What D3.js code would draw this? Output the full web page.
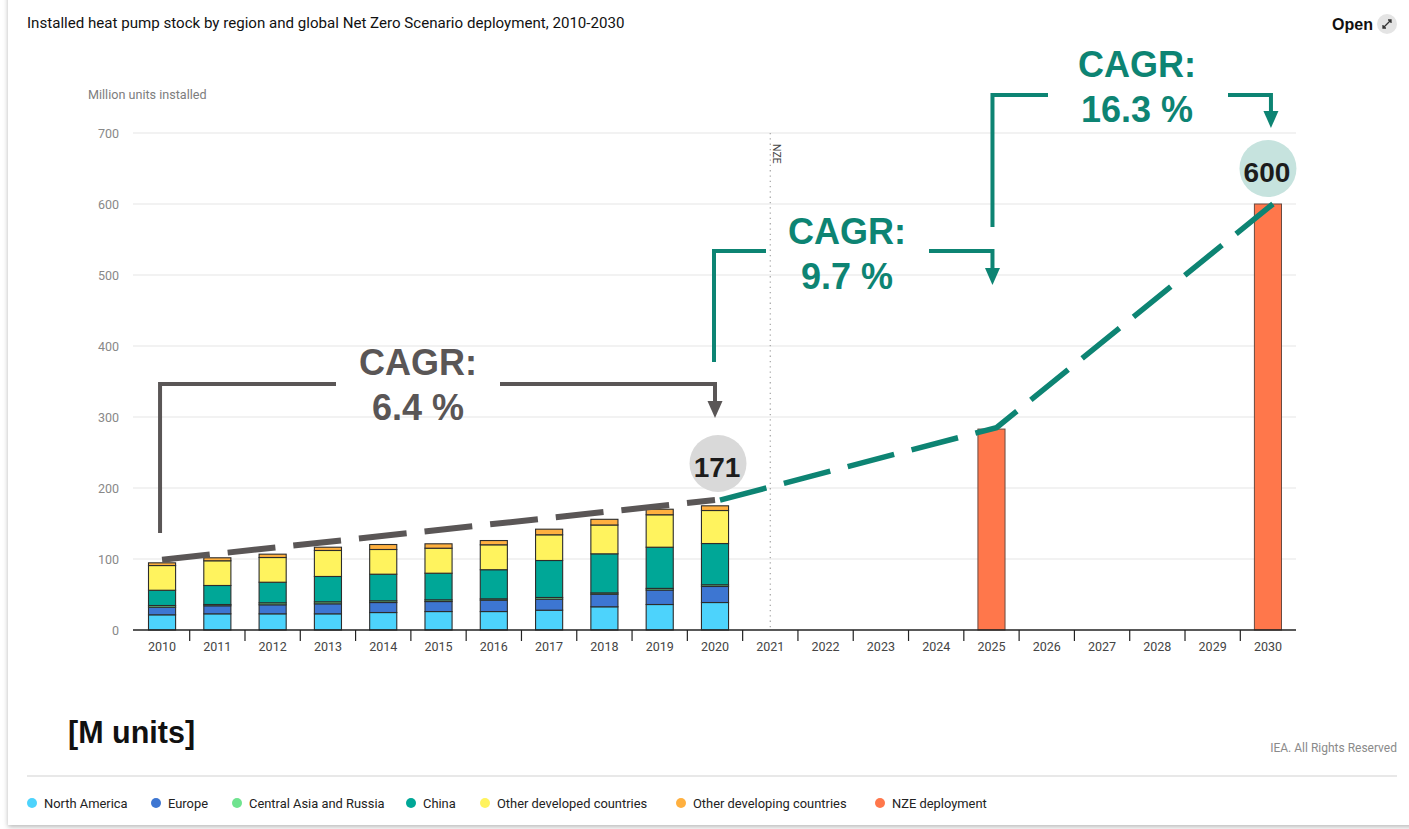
<!DOCTYPE html>
<html>
<head>
<meta charset="utf-8">
<script src="https://cdn.jsdelivr.net/npm/d3@7"></script>
<style>
  html, body { margin: 0; padding: 0; background: #ffffff; }
  svg { display: block; }
</style>
</head>
<body>
<svg id="chart" width="1409" height="829"></svg>
<script>
// ---------------- DATA ----------------
const allYears = ["2010","2011","2012","2013","2014","2015","2016","2017","2018","2019","2020",
                  "2021","2022","2023","2024","2025","2026","2027","2028","2029","2030"];
const histYears = ["2010","2011","2012","2013","2014","2015","2016","2017","2018","2019","2020"];
const northAmerica    = [21.4, 22.8, 22.8, 22.8, 24.6, 26.0, 26.0, 27.9, 32.7, 35.9, 38.7];
const europe          = [10.7, 11.3, 12.7, 14.1, 14.1, 14.1, 16.0, 15.5, 17.7, 20.4, 22.6];
const centralAsia     = [ 2.4,  1.8,  2.8,  2.8,  2.4,  2.4,  1.9,  2.4,  1.9,  2.3,  2.4];
const china           = [21.5, 26.8, 29.0, 35.7, 37.5, 37.5, 41.0, 52.1, 55.0, 58.0, 58.1];
const otherDeveloped  = [34.8, 34.8, 34.8, 36.6, 34.8, 35.2, 35.1, 36.2, 40.6, 45.7, 46.5];
const otherDeveloping = [ 3.8,  4.2,  4.7,  4.6,  7.0,  6.2,  6.0,  7.9,  8.0,  7.8,  6.6];
const nzeYears  = ["2025", "2030"];
const nzeValues = [283, 600];
const histTrendYears  = ["2010", "2020"];
const histTrendValues = [99, 183];
const nzeTrendYears   = ["2020", "2025", "2030"];
const nzeTrendValues  = [183, 285, 600];
const yTicks = [0, 100, 200, 300, 400, 500, 600, 700];
const seriesNames  = ["North America","Europe","Central Asia and Russia","China","Other developed countries","Other developing countries","NZE deployment"];
const seriesColors = ["#4dd3fc","#3d76d2","#6fe38f","#00a797","#fff35e","#ffb03f","#ff774b"];

// --------------- SETUP ----------------
const svg = d3.select("#chart");
const W = 1409, H = 829;
const TEAL = "#0d8473", GREY = "#5a5656";
const FB = "'Liberation Sans', Arial, sans-serif";
const FR = "Roboto, 'Noto Sans', sans-serif";

// card + shadow
const defs = svg.append("defs");
const f = defs.append("filter").attr("id","shadow").attr("x","-5%").attr("y","-5%").attr("width","110%").attr("height","110%");
f.append("feDropShadow").attr("dx",0).attr("dy",2).attr("stdDeviation",2.5).attr("flood-color","#000").attr("flood-opacity",0.28);
svg.append("rect").attr("x",8).attr("y",-20).attr("width",W+20).attr("height",H-4+20)
   .attr("fill","#fff").attr("filter","url(#shadow)");

const x = d3.scaleBand().domain(allYears).range([134.4, 1295.6]).padding(0);
const bw = x.bandwidth();
const barW = bw * 0.49;
const xc = d => x(d) + bw / 2;
const y = d3.scaleLinear().domain([0, 700]).range([630, 133]);

// title
svg.append("text").attr("x", 27).attr("y", 28).attr("font-family", FR).attr("font-size", 15.1)
   .attr("fill", "#111").text("Installed heat pump stock by region and global Net Zero Scenario deployment, 2010-2030");
// Open
svg.append("text").attr("x", 1373).attr("y", 30).attr("text-anchor","end").attr("font-family", FB)
   .attr("font-weight","bold").attr("font-size", 16).attr("fill","#111").text("Open");
const ic = svg.append("g").attr("transform","translate(1387,24)");
ic.append("circle").attr("r", 10).attr("fill", "#e4e4e4");
ic.append("path").attr("d","M-4,4 L4,-4 M1,-4 L4,-4 L4,-1 M-4,1 L-4,4 L-1,4")
  .attr("stroke","#333").attr("stroke-width",1.3).attr("fill","none");

// y title
svg.append("text").attr("x", 88).attr("y", 99).attr("font-family", FR).attr("font-size", 12.6)
   .attr("fill", "#7d7d7d").text("Million units installed");

// gridlines
svg.append("g").selectAll("line").data(yTicks.filter(d => d > 0)).join("line")
  .attr("x1", 133).attr("x2", 1296).attr("y1", d => y(d)).attr("y2", d => y(d))
  .attr("stroke", "#e6e6e6").attr("stroke-width", 1.2);
// y labels
svg.append("g").selectAll("text").data(yTicks).join("text")
  .attr("x", 119).attr("y", d => y(d) + 4.5).attr("text-anchor", "end")
  .attr("font-family", FR).attr("font-size", 12.5).attr("fill", "#888").text(d => d);

// NZE divider
svg.append("line").attr("x1", xc("2021")).attr("x2", xc("2021")).attr("y1", y(700)).attr("y2", y(0))
  .attr("stroke", "#aaa").attr("stroke-width", 1.3).attr("stroke-dasharray", "1.3,4");
svg.append("text").attr("transform", `translate(${xc("2021") + 3},${y(700) + 11}) rotate(90)`)
  .attr("font-family", FR).attr("font-size", 10.5).attr("fill", "#444").text("NZE");

// stacked bars
const keys = ["na","eu","car","cn","od","odv"];
const table = histYears.map((yr, i) => ({year: yr, na: northAmerica[i], eu: europe[i], car: centralAsia[i],
  cn: china[i], od: otherDeveloped[i], odv: otherDeveloping[i]}));
const stacked = d3.stack().keys(keys)(table);
svg.append("g").selectAll("g").data(stacked).join("g")
  .attr("fill", (d, i) => seriesColors[i])
  .selectAll("rect").data(d => d).join("rect")
  .attr("x", d => xc(d.data.year) - barW / 2).attr("width", barW)
  .attr("y", d => y(d[1])).attr("height", d => y(d[0]) - y(d[1]))
  .attr("stroke", "#2c2c2c").attr("stroke-width", 1.1);

// NZE bars
svg.append("g").selectAll("rect").data(nzeYears.map((yr, i) => ({year: yr, v: nzeValues[i]}))).join("rect")
  .attr("x", d => xc(d.year) - barW / 2).attr("width", barW)
  .attr("y", d => y(d.v)).attr("height", d => y(0) - y(d.v))
  .attr("fill", seriesColors[6]).attr("stroke", "#6a4a40").attr("stroke-width", 1);

// x axis
svg.append("line").attr("x1", 133).attr("x2", 1296).attr("y1", y(0)).attr("y2", y(0))
  .attr("stroke", "#222").attr("stroke-width", 1.5);
svg.append("g").selectAll("line").data(allYears.slice(1)).join("line")
  .attr("x1", d => x(d)).attr("x2", d => x(d)).attr("y1", y(0)).attr("y2", y(0) + 11)
  .attr("stroke", "#222").attr("stroke-width", 1.2);
svg.append("g").selectAll("text").data(allYears).join("text")
  .attr("x", d => xc(d)).attr("y", y(0) + 21).attr("text-anchor", "middle")
  .attr("font-family", FR).attr("font-size", 12.5).attr("fill", "#444").text(d => d);

// trend lines
const line = d3.line().x(d => xc(d[0])).y(d => y(d[1]));
svg.append("path").datum(histTrendYears.map((yr, i) => [yr, histTrendValues[i]]))
  .attr("d", line).attr("fill", "none").attr("stroke", GREY).attr("stroke-width", 6)
  .attr("stroke-dasharray", "48,18");
svg.append("path").datum(nzeTrendYears.map((yr, i) => [yr, nzeTrendValues[i]]))
  .attr("d", line).attr("transform", "translate(5,0)").attr("fill", "none").attr("stroke", TEAL).attr("stroke-width", 5.5)
  .attr("stroke-dasharray", "48,18").attr("stroke-dashoffset", 0);

// value bubbles
function bubble(cx, cy, fill, label) {
  svg.append("circle").attr("cx", cx).attr("cy", cy).attr("r", 28.5).attr("fill", fill);
  svg.append("text").attr("x", cx - 1).attr("y", cy + 13).attr("text-anchor", "middle")
    .attr("font-family", FB).attr("font-weight", "bold").attr("font-size", 28).attr("fill", "#1c1c1c").text(label);
}
bubble(xc("2020") + 3, 463.5, "#d9d9d9", "171");
bubble(xc("2030"), 168.5, "#c6e3de", "600");

// CAGR brackets
function bracket(color, x0, yBottom, yTop, gapL, gapR, x1, yTip, tx, l1, l2, b1, b2) {
  const g = svg.append("g");
  g.append("path").attr("d", `M${x0},${yBottom} L${x0},${yTop} L${gapL},${yTop} M${gapR},${yTop} L${x1},${yTop} L${x1},${yTip - 15}`)
    .attr("fill", "none").attr("stroke", color).attr("stroke-width", 4);
  g.append("path").attr("d", `M${x1 - 7.5},${yTip - 17} L${x1 + 7.5},${yTip - 17} L${x1},${yTip} Z`).attr("fill", color);
  g.append("text").attr("x", tx).attr("y", b1).attr("text-anchor", "middle").attr("font-family", FB)
    .attr("font-weight", "bold").attr("font-size", 36).attr("fill", color).text(l1);
  g.append("text").attr("x", tx).attr("y", b2).attr("text-anchor", "middle").attr("font-family", FB)
    .attr("font-weight", "bold").attr("font-size", 36).attr("fill", color).text(l2);
}
bracket(GREY, xc("2010") - 2, 533, 384, 336, 500, xc("2020"), 418, 418, "CAGR:", "6.4 %", 375, 420);
bracket(TEAL, xc("2020") - 1, 362, 251, 766, 929, xc("2025") + 1, 285, 847, "CAGR:", "9.7 %", 244, 289);
bracket(TEAL, xc("2025") + 1, 227, 95, 1048, 1228, xc("2030") + 3, 128, 1137, "CAGR:", "16.3 %", 77, 122);

// footer
svg.append("text").attr("x", 68).attr("y", 743).attr("font-family", FB).attr("font-weight", "bold")
  .attr("font-size", 30.5).attr("fill", "#111").text("[M units]");
svg.append("text").attr("x", 1397).attr("y", 752).attr("text-anchor", "end").attr("font-family", FR)
  .attr("font-size", 12).attr("fill", "#8a8a8a").text("IEA. All Rights Reserved");
svg.append("line").attr("x1", 27).attr("x2", 1397).attr("y1", 776).attr("y2", 776)
  .attr("stroke", "#e8e8e8").attr("stroke-width", 2);

// legend
const legX = [32, 156, 237, 411, 485, 681, 880];
const lg = svg.append("g").selectAll("g").data(seriesNames).join("g")
  .attr("transform", (d, i) => `translate(${legX[i]},803)`);
lg.append("circle").attr("r", 5).attr("fill", (d, i) => seriesColors[i]);
lg.append("text").attr("x", 12).attr("y", 4.5).attr("font-family", FR).attr("font-size", 12.9)
  .attr("fill", "#222").text(d => d);
</script>
</body>
</html>
